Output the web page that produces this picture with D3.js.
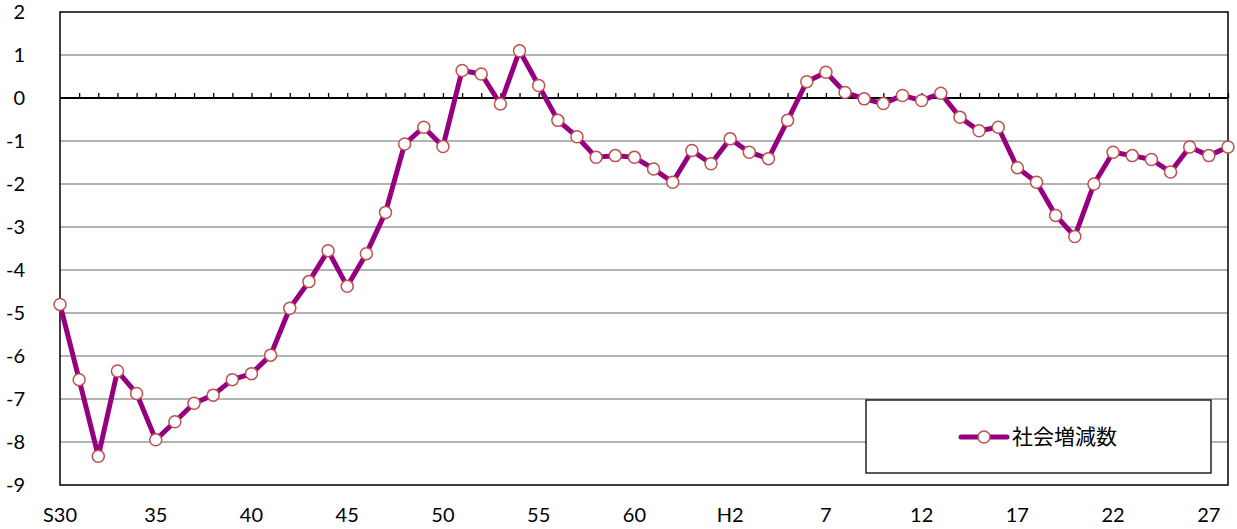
<!DOCTYPE html>
<html>
<head>
<meta charset="utf-8">
<script src="https://cdn.jsdelivr.net/npm/d3@7"></script>
<style>
  body { margin: 0; background: #fff; }
  svg { display: block; }
  .tick-label { font-family: Lato, sans-serif; font-size: 20px; fill: #000; }
  .legend-text { font-family: "Noto Sans CJK JP", sans-serif; font-size: 21px; fill: #000; }
</style>
</head>
<body>
<div id="chart"></div>
<script>
// 年次ラベル（S30〜S63, H1〜H28）
const years = [];
for (let s = 30; s <= 63; s++) years.push('S' + s);
for (let h = 1; h <= 28; h++) years.push('H' + h);

// x軸に表示するラベル（5年ごと）
const xTickLabels = ['S30', '35', '40', '45', '50', '55', '60', 'H2', '7', '12', '17', '22', '27'];

// 社会増減数
const socialChange = [
  -4.80, -6.55, -8.33, -6.35, -6.87, -7.95, -7.53, -7.10, -6.91, -6.55,
  -6.41, -5.98, -4.89, -4.27, -3.55, -4.38, -3.62, -2.66, -1.07, -0.68,
  -1.13,  0.64,  0.56, -0.14,  1.10,  0.29, -0.52, -0.90, -1.38, -1.34,
  -1.38, -1.65, -1.96, -1.22, -1.53, -0.95, -1.26, -1.41, -0.52,  0.38,
   0.60,  0.13, -0.02, -0.13,  0.06, -0.06,  0.11, -0.45, -0.76, -0.68,
  -1.62, -1.96, -2.73, -3.22, -2.00, -1.26, -1.34, -1.43, -1.72, -1.14,
  -1.34, -1.14
];

const yTicks = [2, 1, 0, -1, -2, -3, -4, -5, -6, -7, -8, -9];
const seriesName = '社会増減数';

const width = 1237, height = 529;
const margin = { top: 12, right: 9, bottom: 44, left: 60 };

const svg = d3.select('#chart').append('svg')
  .attr('width', width)
  .attr('height', height);

const x = d3.scalePoint()
  .domain(years)
  .range([margin.left, width - margin.right]);

const y = d3.scaleLinear()
  .domain([-9, 2])
  .range([height - margin.bottom, margin.top]);

// gridlines
svg.append('g')
  .selectAll('line')
  .data(yTicks.filter(d => d !== 0 && d !== 2 && d !== -9))
  .join('line')
  .attr('x1', margin.left).attr('x2', width - margin.right)
  .attr('y1', d => y(d)).attr('y2', d => y(d))
  .attr('stroke', '#9a9a9a')
  .attr('stroke-width', 1.5);

// plot border
svg.append('rect')
  .attr('x', margin.left)
  .attr('y', y(2))
  .attr('width', width - margin.right - margin.left)
  .attr('height', y(-9) - y(2))
  .attr('fill', 'none')
  .attr('stroke', '#000')
  .attr('stroke-width', 1.5);

// zero line with small ticks
const zeroAxis = d3.axisTop(x)
  .tickSize(5)
  .tickFormat('');
const za = svg.append('g')
  .attr('transform', `translate(0,${y(0)})`)
  .call(zeroAxis);
za.select('.domain')
  .attr('stroke', '#000')
  .attr('stroke-width', 2.2)
  .attr('d', `M${margin.left},0H${width - margin.right}`);
za.selectAll('.tick line').attr('stroke', '#000').attr('stroke-width', 1.3);
za.selectAll('.tick').filter((d, i) => i === 0).remove();

// y labels
svg.append('g')
  .selectAll('text')
  .data(yTicks)
  .join('text')
  .attr('class', 'tick-label')
  .attr('x', 25)
  .attr('y', d => y(d))
  .attr('dy', '0.35em')
  .attr('text-anchor', 'end')
  .text(d => d);

// x labels
svg.append('g')
  .selectAll('text')
  .data(xTickLabels)
  .join('text')
  .attr('class', 'tick-label')
  .attr('x', (d, i) => x(years[i * 5]))
  .attr('y', 522)
  .attr('text-anchor', 'middle')
  .text(d => d);

const lineColor = '#94007f';
const markerStroke = '#c0504d';

// line
const line = d3.line()
  .x((d, i) => x(years[i]))
  .y(d => y(d));

svg.append('path')
  .datum(socialChange)
  .attr('fill', 'none')
  .attr('stroke', lineColor)
  .attr('stroke-width', 5)
  .attr('stroke-linejoin', 'round')
  .attr('d', line);

// markers
svg.append('g')
  .selectAll('circle')
  .data(socialChange)
  .join('circle')
  .attr('cx', (d, i) => x(years[i]))
  .attr('cy', d => y(d))
  .attr('r', 6)
  .attr('fill', '#fff')
  .attr('stroke', markerStroke)
  .attr('stroke-width', 1.5);

// legend
const lg = svg.append('g');
lg.append('rect')
  .attr('x', 866).attr('y', 400)
  .attr('width', 345).attr('height', 73)
  .attr('fill', '#fff')
  .attr('stroke', '#000')
  .attr('stroke-width', 1.3);
lg.append('line')
  .attr('x1', 961).attr('x2', 1007)
  .attr('y1', 437).attr('y2', 437)
  .attr('stroke', lineColor)
  .attr('stroke-width', 5)
  .attr('stroke-linecap', 'round');
lg.append('circle')
  .attr('cx', 984).attr('cy', 437).attr('r', 6)
  .attr('fill', '#fff')
  .attr('stroke', markerStroke)
  .attr('stroke-width', 1.5);
lg.append('text')
  .attr('class', 'legend-text')
  .attr('x', 1012).attr('y', 437)
  .attr('dy', '0.35em')
  .text(seriesName);
</script>
</body>
</html>
